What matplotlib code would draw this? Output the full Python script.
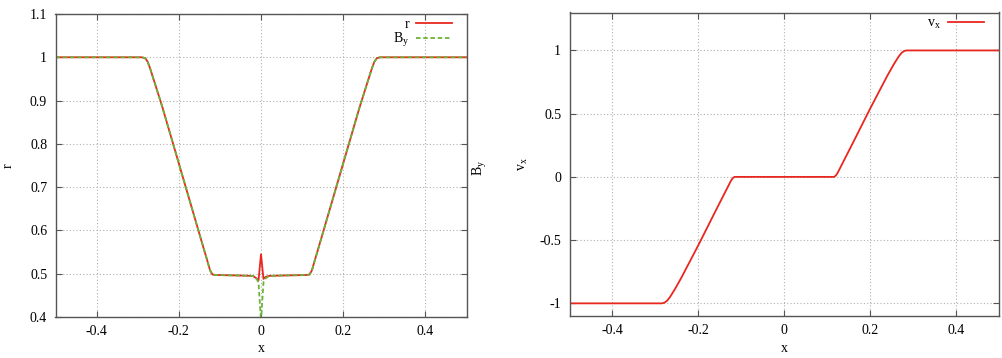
import matplotlib
matplotlib.use("Agg")
import matplotlib.pyplot as plt

plt.rcParams['font.family'] = ['Liberation Serif', 'DejaVu Serif']
plt.rcParams['font.size'] = 10
plt.rcParams['mathtext.fontset'] = 'custom'
plt.rcParams['mathtext.rm'] = 'Liberation Serif'
plt.rcParams['mathtext.it'] = 'Liberation Serif'

# density / magnetic field profile (left panel)
x_r = [-0.5, -0.29, -0.282, -0.276, -0.27, -0.26, -0.24, -0.22, -0.2, -0.18, -0.16, -0.14,
       -0.13, -0.124, -0.118, -0.11, -0.06, -0.02, -0.012, -0.006, 0.0,
       0.006, 0.012, 0.02, 0.06, 0.11, 0.118, 0.124, 0.13, 0.14, 0.16, 0.18, 0.2,
       0.22, 0.24, 0.26, 0.27, 0.276, 0.282, 0.29, 0.5]
r = [1.0, 1.0, 0.998, 0.99, 0.975, 0.945, 0.885, 0.82, 0.755, 0.69, 0.625, 0.56,
     0.528, 0.508, 0.498, 0.497, 0.496, 0.495, 0.49, 0.485, 0.545,
     0.488, 0.493, 0.495, 0.496, 0.497, 0.498, 0.508, 0.528, 0.56, 0.625, 0.69, 0.755,
     0.82, 0.885, 0.945, 0.975, 0.99, 0.998, 1.0, 1.0]
B_y = [1.0, 1.0, 0.998, 0.99, 0.975, 0.945, 0.885, 0.82, 0.755, 0.69, 0.625, 0.56,
       0.528, 0.508, 0.498, 0.497, 0.496, 0.495, 0.49, 0.48, 0.39,
       0.48, 0.49, 0.495, 0.496, 0.497, 0.498, 0.508, 0.528, 0.56, 0.625, 0.69, 0.755,
       0.82, 0.885, 0.945, 0.975, 0.99, 0.998, 1.0, 1.0]

# velocity profile (right panel)
x_v = [-0.5, -0.285, -0.279, -0.273, -0.266, -0.255, -0.24, -0.2, -0.16, -0.13,
       -0.124, -0.12, -0.116, 0.0, 0.116, 0.12, 0.124, 0.13, 0.16, 0.2, 0.24,
       0.255, 0.266, 0.273, 0.279, 0.285, 0.5]
v_x = [-1.0, -1.0, -0.995, -0.98, -0.95, -0.89, -0.8, -0.54, -0.27, -0.07,
       -0.03, -0.01, 0.0, 0.0, 0.0, 0.01, 0.03, 0.07, 0.27, 0.54, 0.8,
       0.89, 0.95, 0.98, 0.995, 1.0, 1.0]

red = '#e8271f'
green = '#6cb33a'
spine = '#555555'

fig = plt.figure(figsize=(10.02, 3.58), dpi=100)
ax1 = fig.add_axes([55.5 / 1002, 1 - 317 / 358, 411 / 1002, 303 / 358])
ax2 = fig.add_axes([569.5 / 1002, 1 - 316 / 358, 429.5 / 1002, 303.5 / 358])


def style(ax):
    ax.grid(True, color='#b0b0b0', linestyle=(0, (1, 2)), linewidth=0.8)
    ax.tick_params(direction='in', top=True, right=True, length=4, width=0.8,
                   color=spine, labelsize=10, pad=6)
    for s in ax.spines.values():
        s.set_color(spine)
        s.set_linewidth(1.0)


ax1.plot(x_r, r, color=red, lw=1.3, label='r')
ax1.plot(x_r, B_y, color=green, lw=1.3, linestyle=(0, (2.5, 1.5)), label='$\\mathregular{B_y}$')
ax1.set_xlim(-0.5, 0.5)
ax1.set_ylim(0.4, 1.1)
ax1.set_xticks([-0.4, -0.2, 0, 0.2, 0.4])
ax1.set_xticklabels(['-0.4', '-0.2', '0', '0.2', '0.4'])
ax1.set_yticks([0.4, 0.5, 0.6, 0.7, 0.8, 0.9, 1.0, 1.1])
ax1.set_yticklabels(['0.4', '0.5', '0.6', '0.7', '0.8', '0.9', '1', '1.1'])
ax1.set_xlabel('x', labelpad=3)
style(ax1)
ax1.legend(loc='upper right', bbox_to_anchor=(0.978, 1.005), frameon=False,
           markerfirst=False, handlelength=2.6, borderaxespad=0.0,
           labelspacing=0.0, handletextpad=0.5)
fig.text(8 / 1002, 1 - 166 / 358, 'r', rotation=90,
         ha='center', va='center', fontsize=10)
fig.text(480 / 1002, 1 - 168 / 358, '$\\mathregular{B_y}$', rotation=90,
         ha='center', va='center', fontsize=10)

ax2.plot(x_v, v_x, color=red, lw=1.3, label='$\\mathregular{v_x}$')
ax2.set_xlim(-0.5, 0.5)
ax2.set_ylim(-1.1, 1.3)
ax2.set_xticks([-0.4, -0.2, 0, 0.2, 0.4])
ax2.set_xticklabels(['-0.4', '-0.2', '0', '0.2', '0.4'])
ax2.set_yticks([-1, -0.5, 0, 0.5, 1])
ax2.set_yticklabels(['-1', '-0.5', '0', '0.5', '1'])
ax2.set_xlabel('x', labelpad=3)
ax2.set_ylabel('$\\mathregular{v_x}$', labelpad=7)
style(ax2)
ax2.legend(loc='upper right', bbox_to_anchor=(0.978, 1.004), frameon=False,
           markerfirst=False, handlelength=2.6, borderaxespad=0.0,
           handletextpad=0.5)

fig.savefig('out.png', dpi=100)
